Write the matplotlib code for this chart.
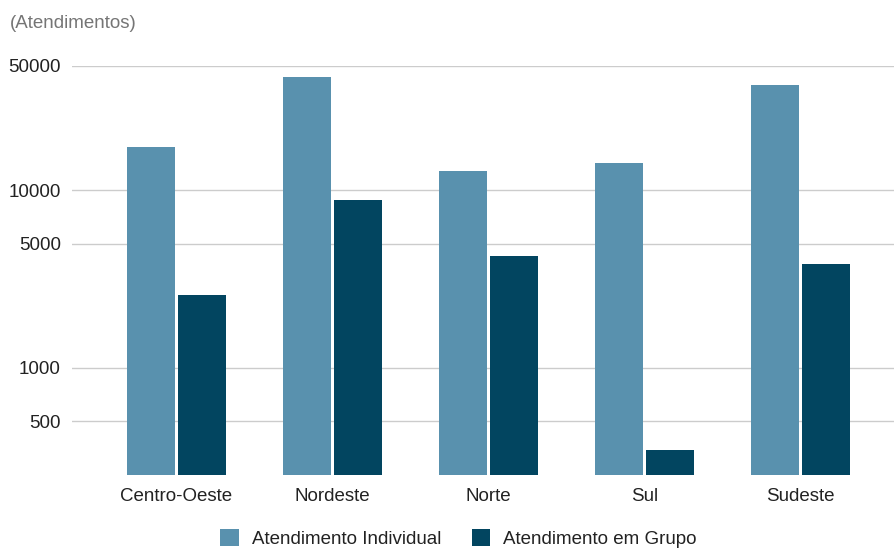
import matplotlib
matplotlib.use('Agg')
from matplotlib import pyplot as plt
import numpy as np

matplotlib.rcParams['font.family'] = ['Liberation Sans', 'DejaVu Sans']

regioes = ["Centro-Oeste", "Nordeste", "Norte", "Sul", "Sudeste"]
individual = [17500, 43300, 12800, 14200, 39000]
grupo = [2580, 8780, 4270, 346, 3850]
yticks = [500, 1000, 5000, 10000, 50000]

cor_ind = '#5991ae'
cor_grp = '#024560'

fig = plt.figure(figsize=(8.94, 5.48), dpi=100)
ax = fig.add_axes([0.0805, 0.1332, 0.9195, 0.7464])

x = np.arange(len(regioes))
w = 0.307
ax.bar(x - w / 2 - 0.01, individual, w, color=cor_ind, label='Atendimento Individual', zorder=3)
ax.bar(x + w / 2 + 0.01, grupo, w, color=cor_grp, label='Atendimento em Grupo', zorder=3)

ax.set_yscale('log')
ax.set_ylim(250, 50000)
ax.set_xlim(-0.67, 4.6)
ax.set_yticks(yticks)
ax.set_yticklabels([str(v) for v in yticks])
ax.minorticks_off()
ax.set_xticks(x)
ax.set_xticklabels(regioes)
ax.tick_params(axis='y', length=0, pad=8, labelsize=13.5, labelcolor='#222222')
ax.tick_params(axis='x', length=0, pad=9, labelsize=13.5, labelcolor='#222222')
ax.grid(axis='y', color='#cccccc', linewidth=1, zorder=0)
for s in ax.spines.values():
    s.set_visible(False)

fig.text(0.011, 0.958, '(Atendimentos)', fontsize=13.5, color='#757575', va='center', ha='left')

fig.legend(loc='lower center', bbox_to_anchor=(0.513, -0.03), ncol=2, frameon=False,
           fontsize=13.5, handlelength=1.0, handleheight=1.0, columnspacing=1.6,
           handletextpad=0.7, labelcolor='#222222')

fig.savefig('out.png', dpi=100)
